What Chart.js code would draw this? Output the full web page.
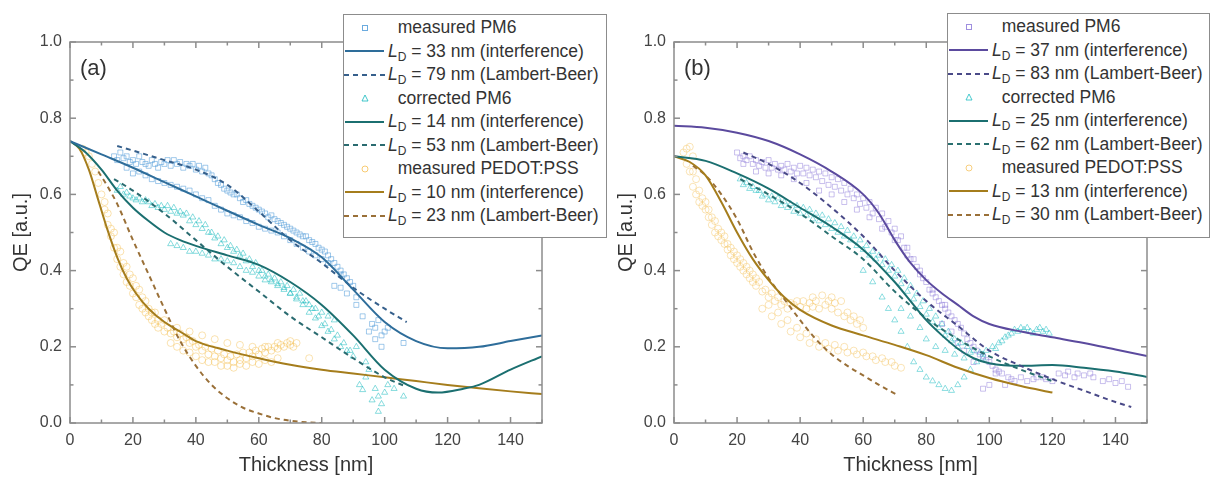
<!DOCTYPE html>
<html>
<head>
<meta charset="UTF-8">
<script src="https://cdn.jsdelivr.net/npm/chart.js@4.4.0/dist/chart.umd.min.js"></script>
<style>
  body { margin: 0; width: 1210px; height: 481px; position: relative; background: #fff; overflow: hidden;
         font-family: Arial, "Liberation Sans", sans-serif; }
  .panel { position: absolute; top: 0; width: 605px; height: 481px; }
  .tag { position: absolute; font-size: 22px; color: #333; line-height: 22px; }
  .legend { position: absolute; background: #fff; border: 1px solid #8c8c8c; box-sizing: border-box;
            font-size: 17.5px; color: #333; padding-top: 1px; }
  .legend .row { height: 23.5px; display: flex; align-items: center; white-space: nowrap; }
  .legend svg { width: 44px; height: 22px; flex: none; }
  .legend sub { font-size: 12px; vertical-align: -4px; line-height: 0; }
</style>
</head>
<body>
<div class="panel" style="left:0"><canvas id="chartA"></canvas></div>
<div class="panel" style="left:605px"><canvas id="chartB"></canvas></div>
<div class="tag" style="left:80px; top:57px">(a)</div>
<div class="tag" style="left:684px; top:57px">(b)</div>
<div class="legend" id="legendA" style="left:343px; top:14px; width:264px; height:224px"></div>
<div class="legend" id="legendB" style="left:947px; top:13px; width:263px; height:225px"></div>

<script>
// axis ticks
const xTicks = [0, 20, 40, 60, 80, 100, 120, 140];
const xMinor = [10, 30, 50, 70, 90, 110, 130, 150];
const yTicks = [0, 0.2, 0.4, 0.6, 0.8, 1.0];
const yMinor = [0.1, 0.3, 0.5, 0.7, 0.9];

// ---- panel (a) ---- [thickness nm, QE]
const aPm6Meas = [
  [14,0.70],[16,0.71],[18,0.70],[20,0.69],[22,0.70],[24,0.68],[26,0.69],[28,0.67],[30,0.68],[32,0.675],
  [34,0.68],[36,0.67],[38,0.675],[40,0.665],[42,0.66],[44,0.655],[46,0.64],[48,0.625],[50,0.61],[52,0.60],
  [54,0.59],[56,0.585],[58,0.57],[60,0.56],[62,0.55],[64,0.545],[66,0.53],[68,0.52],[70,0.51],[72,0.50],
  [74,0.49],[76,0.48],[78,0.47],[80,0.455],[82,0.44],[84,0.42],[86,0.40],[88,0.38],[90,0.36],[91,0.33],
  [15,0.69],[17,0.695],[19,0.685],[21,0.68],[23,0.685],[25,0.675],[27,0.68],[29,0.685],[31,0.69],[33,0.69],
  [35,0.685],[37,0.68],[39,0.68],[41,0.675],[43,0.67],[45,0.65],[47,0.63],[49,0.615],[51,0.605],[53,0.60],
  [55,0.58],[57,0.575],[59,0.565],[61,0.555],[63,0.54],[65,0.535],[67,0.525],[69,0.515],[71,0.505],[73,0.495],
  [75,0.49],[77,0.475],[79,0.46],[81,0.45],[83,0.43],[85,0.41],[87,0.39],[89,0.37],
  [18,0.67],[22,0.66],[26,0.64],[30,0.63],[34,0.62],[38,0.61],[42,0.59],[46,0.57],[50,0.55],[54,0.54],
  [58,0.525],[62,0.51],[66,0.50],[70,0.48],[74,0.46],[78,0.44],[82,0.42],[86,0.39],
  [20,0.655],[24,0.65],[28,0.635],[32,0.625],[36,0.615],[40,0.60],[44,0.585],[48,0.56],[52,0.545],[56,0.53],
  [60,0.515],[64,0.505],[68,0.49],[72,0.47],[76,0.45],[80,0.43],
  [84,0.36],[88,0.34],[86,0.355],[91,0.31],[93,0.28],[95,0.24],[96,0.26],[97,0.25],[97,0.22],[98,0.27],
  [99,0.23],[99,0.20],[100,0.24],[101,0.25],[106,0.21]
];
const aPm6Interf = [[0,0.74],[10,0.705],[20,0.67],[30,0.632],[40,0.595],[50,0.557],[60,0.52],[70,0.485],
  [80,0.435],[90,0.35],[100,0.265],[110,0.215],[120,0.196],[130,0.20],[140,0.215],[150,0.23]];
const aPm6LB = [[15,0.727],[20,0.715],[30,0.69],[40,0.665],[50,0.625],[60,0.555],[70,0.48],[80,0.42],
  [90,0.355],[100,0.30],[107,0.265]];

const aCorrMeas = [
  [15,0.61],[17,0.60],[19,0.595],[21,0.585],[23,0.58],[25,0.58],[27,0.575],[29,0.57],[31,0.57],[33,0.565],
  [35,0.555],[37,0.55],[39,0.54],[41,0.53],[43,0.52],[45,0.50],[47,0.49],[49,0.48],[51,0.465],[53,0.455],
  [55,0.445],[57,0.43],[59,0.42],[61,0.40],[63,0.39],[65,0.38],[67,0.37],[69,0.36],[71,0.35],[73,0.34],
  [75,0.32],[77,0.30],[79,0.28],[81,0.26],[83,0.245],[85,0.23],[87,0.21],[89,0.19],[90,0.175],
  [16,0.62],[18,0.605],[20,0.59],[22,0.59],[24,0.585],[26,0.57],[28,0.565],[30,0.56],[32,0.555],[34,0.55],
  [36,0.545],[38,0.53],[40,0.52],[42,0.51],[44,0.50],[46,0.485],[48,0.47],[50,0.46],[52,0.45],[54,0.44],
  [56,0.425],[58,0.41],[60,0.40],[62,0.385],[64,0.375],[66,0.365],[68,0.355],[70,0.34],[72,0.325],[74,0.31],
  [76,0.29],[78,0.275],[80,0.255],[82,0.24],[84,0.22],[86,0.20],
  [32,0.47],[36,0.46],[40,0.45],[44,0.44],[48,0.43],[52,0.42],[56,0.40],[60,0.385],[64,0.37],[68,0.35],
  [72,0.33],[76,0.31],[80,0.29],[84,0.27],
  [34,0.465],[38,0.45],[42,0.445],[46,0.43],[50,0.425],[54,0.41],[58,0.395],[62,0.375],[66,0.36],[70,0.34],
  [74,0.32],[78,0.30],[82,0.28],
  [88,0.19],[91,0.20],[92,0.10],[93,0.087],[94,0.12],[94,0.16],[95,0.14],[96,0.06],[97,0.09],[98,0.03],
  [98,0.07],[99,0.05],[100,0.08],[101,0.10],[103,0.09],[106,0.07]
];
const aCorrInterf = [[0,0.74],[5,0.71],[10,0.665],[15,0.61],[20,0.565],[25,0.53],[30,0.50],[35,0.48],
  [40,0.465],[50,0.44],[60,0.415],[70,0.37],[80,0.31],[90,0.23],[100,0.14],[110,0.09],[117,0.08],
  [125,0.09],[130,0.10],[140,0.14],[150,0.175]];
const aCorrLB = [[14,0.64],[20,0.61],[30,0.55],[40,0.48],[50,0.41],[60,0.345],[70,0.28],[80,0.225],
  [90,0.17],[100,0.12],[107,0.095]];

const aPedMeas = [
  [4,0.72],[6,0.70],[8,0.66],[10,0.60],[11,0.56],[12,0.52],[13,0.49],[14,0.46],[15,0.43],[16,0.41],
  [17,0.39],[18,0.37],[19,0.36],[20,0.34],[21,0.33],[22,0.31],[23,0.30],[24,0.29],[25,0.28],[26,0.27],
  [27,0.26],[28,0.25],[30,0.24],[32,0.235],[34,0.225],[36,0.22],[38,0.21],[40,0.20],[42,0.19],[44,0.18],
  [46,0.175],[48,0.17],[50,0.165],[52,0.16],[54,0.165],[56,0.17],[58,0.175],[60,0.18],[62,0.185],[64,0.19],
  [66,0.195],[68,0.20],[70,0.205],[72,0.21],
  [5,0.71],[7,0.68],[9,0.63],[11,0.58],[12,0.55],[13,0.51],[15,0.46],[17,0.42],[19,0.39],[21,0.36],
  [23,0.33],[25,0.30],[26,0.29],[28,0.27],[29,0.26],[31,0.25],[33,0.24],[35,0.235],[37,0.225],[39,0.215],
  [41,0.205],[43,0.20],[45,0.195],[47,0.19],[49,0.18],[51,0.175],[53,0.18],[55,0.185],[57,0.185],[59,0.19],
  [61,0.195],[63,0.20],[65,0.20],[67,0.205],[69,0.21],[71,0.20],
  [14,0.50],[16,0.45],[18,0.41],[20,0.38],[22,0.35],[24,0.32],[27,0.29],[30,0.27],[34,0.25],[38,0.24],
  [42,0.23],[46,0.22],[50,0.21],[54,0.205],[58,0.20],[62,0.20],[66,0.21],[70,0.215],
  [32,0.21],[34,0.20],[36,0.19],[38,0.185],[40,0.175],[42,0.165],[44,0.16],[46,0.16],[48,0.15],[50,0.15],
  [52,0.145],[54,0.155],[56,0.15],[58,0.16],[60,0.155],[62,0.165],[64,0.16],[66,0.17],[76,0.17]
];
const aPedInterf = [[0,0.74],[3,0.72],[6,0.665],[9,0.585],[12,0.505],[15,0.435],[18,0.38],[21,0.34],
  [25,0.30],[30,0.265],[35,0.24],[40,0.215],[50,0.19],[60,0.17],[70,0.153],[80,0.14],[90,0.13],
  [100,0.12],[110,0.11],[120,0.10],[130,0.091],[140,0.083],[150,0.076]];
const aPedLB = [[9,0.66],[12,0.62],[15,0.575],[20,0.48],[25,0.39],[30,0.30],[35,0.215],[40,0.15],
  [45,0.10],[50,0.065],[55,0.04],[60,0.025],[65,0.013],[70,0.006],[75,0.002],[80,0]];

// ---- panel (b) ----
const bPm6Meas = [
  [20,0.71],[22,0.70],[24,0.70],[26,0.69],[28,0.685],[30,0.69],[32,0.68],[34,0.675],[36,0.68],[38,0.67],
  [40,0.675],[42,0.67],[44,0.665],[46,0.66],[48,0.655],[50,0.645],[52,0.64],[54,0.63],[56,0.615],[58,0.60],
  [60,0.59],[62,0.58],[64,0.565],[66,0.55],[68,0.53],[70,0.51],[72,0.49],[74,0.46],[76,0.43],[78,0.40],
  [80,0.37],[82,0.34],[84,0.32],[86,0.30],[88,0.28],[90,0.26],[92,0.235],[94,0.21],[96,0.19],[98,0.175],
  [100,0.16],[102,0.14],[104,0.13],[106,0.12],[108,0.11],
  [21,0.695],[23,0.69],[25,0.68],[27,0.675],[29,0.67],[31,0.67],[33,0.665],[35,0.665],[37,0.66],[39,0.655],
  [41,0.655],[43,0.65],[45,0.645],[47,0.635],[49,0.625],[51,0.62],[53,0.61],[55,0.60],[57,0.59],[59,0.575],
  [61,0.565],[63,0.55],[65,0.535],[67,0.515],[69,0.50],[71,0.48],[73,0.46],[75,0.43],[77,0.41],[79,0.38],
  [81,0.35],[83,0.33],[85,0.31],[87,0.29],[89,0.27],[91,0.25],[93,0.22],[95,0.20],[97,0.18],[99,0.165],
  [101,0.15],[103,0.135],[107,0.115],
  [22,0.68],[26,0.66],[30,0.655],[34,0.65],[38,0.64],[42,0.63],[46,0.61],[50,0.60],[54,0.58],[58,0.56],
  [62,0.54],[66,0.51],[70,0.48],[74,0.44],[78,0.39],[82,0.35],[86,0.31],
  [85,0.26],[88,0.24],[90,0.21],[92,0.19],[95,0.16],[98,0.09],[100,0.10],[102,0.13],[105,0.10],[110,0.12],
  [112,0.11],[114,0.115],[115,0.12],[117,0.12],[118,0.115],[120,0.11],[122,0.13],[124,0.125],[125,0.135],
  [127,0.12],[128,0.13],[130,0.125],[132,0.13],[133,0.12],[136,0.11],[138,0.115],[140,0.105],[142,0.11],
  [144,0.095]
];
const bPm6Interf = [[0,0.78],[10,0.775],[20,0.762],[30,0.74],[40,0.705],[50,0.66],[60,0.60],[65,0.55],
  [70,0.48],[75,0.42],[80,0.375],[85,0.34],[90,0.31],[95,0.28],[100,0.26],[110,0.24],[120,0.225],
  [130,0.21],[140,0.193],[150,0.176]];
const bPm6LB = [[22,0.71],[30,0.68],[40,0.63],[50,0.565],[60,0.49],[70,0.40],[80,0.32],[90,0.255],
  [100,0.19],[110,0.15],[120,0.115],[130,0.085],[140,0.055],[145,0.042]];

const bCorrMeas = [
  [21,0.64],[23,0.63],[25,0.62],[27,0.61],[29,0.60],[31,0.595],[33,0.59],[35,0.58],[37,0.575],[39,0.57],
  [41,0.565],[43,0.56],[45,0.55],[47,0.545],[49,0.535],[51,0.525],[53,0.515],[55,0.505],[57,0.49],[59,0.48],
  [61,0.465],[63,0.45],[65,0.44],[67,0.43],[69,0.415],[71,0.40],[73,0.38],[75,0.36],[77,0.34],[79,0.32],
  [81,0.30],[83,0.28],[85,0.26],[87,0.24],[89,0.22],[91,0.21],[93,0.20],[95,0.19],[97,0.185],[99,0.19],
  [101,0.20],[103,0.21],[105,0.225],[107,0.235],[109,0.24],[111,0.245],[113,0.24],[115,0.245],[117,0.24],
  [119,0.235],
  [22,0.625],[24,0.615],[26,0.61],[28,0.595],[30,0.585],[32,0.58],[34,0.57],[36,0.565],[38,0.555],[40,0.55],
  [42,0.545],[44,0.535],[46,0.53],[48,0.52],[50,0.51],[52,0.50],[54,0.49],[56,0.48],[58,0.465],[60,0.455],
  [62,0.44],[64,0.43],[66,0.415],[68,0.40],[70,0.385],[72,0.365],[74,0.345],[76,0.325],[78,0.305],[80,0.285],
  [82,0.265],[84,0.25],[86,0.23],[88,0.215],[90,0.20],[94,0.185],[98,0.18],[102,0.195],[104,0.215],
  [106,0.23],[108,0.245],[110,0.25],[112,0.25],[114,0.235],[116,0.25],[118,0.245],
  [60,0.40],[63,0.37],[66,0.33],[68,0.30],[70,0.27],[72,0.24],[74,0.20],[76,0.16],[78,0.14],[80,0.12],
  [82,0.11],[84,0.10],[86,0.09],[88,0.085],[90,0.10],[92,0.12],[94,0.14],[96,0.16],[98,0.17],
  [72,0.30],[75,0.28],[78,0.25],[80,0.22],[83,0.20],[86,0.19],[89,0.18],[92,0.17]
];
const bCorrInterf = [[0,0.70],[10,0.688],[20,0.655],[30,0.615],[40,0.565],[50,0.515],[60,0.455],
  [70,0.37],[75,0.32],[80,0.27],[85,0.23],[90,0.195],[95,0.17],[100,0.157],[110,0.15],[120,0.152],
  [130,0.145],[140,0.135],[150,0.121]];
const bCorrLB = [[21,0.64],[30,0.60],[40,0.55],[50,0.49],[60,0.43],[70,0.345],[80,0.275],[90,0.22],
  [100,0.175],[110,0.14],[120,0.11]];

const bPedMeas = [
  [3,0.71],[4,0.72],[5,0.725],[6,0.70],[5,0.66],[6,0.62],[7,0.60],[8,0.58],[9,0.57],[10,0.56],
  [11,0.54],[12,0.52],[13,0.50],[14,0.49],[15,0.48],[16,0.47],[17,0.455],[18,0.44],[19,0.43],[20,0.42],
  [21,0.41],[22,0.40],[23,0.39],[24,0.38],[25,0.37],[26,0.36],[28,0.345],[30,0.33],[32,0.32],[34,0.31],
  [36,0.30],[38,0.31],[40,0.305],[42,0.30],[44,0.305],[46,0.30],[48,0.31],[50,0.30],[52,0.29],[54,0.28],
  [56,0.27],[58,0.26],[60,0.25],
  [4,0.68],[6,0.66],[7,0.64],[8,0.61],[9,0.59],[10,0.58],[11,0.56],[12,0.54],[13,0.53],[14,0.51],
  [15,0.50],[16,0.49],[17,0.47],[18,0.46],[19,0.45],[20,0.44],[21,0.43],[22,0.42],[23,0.41],[24,0.40],
  [25,0.39],[26,0.38],[27,0.37],[29,0.35],[31,0.34],[33,0.33],[35,0.32],[37,0.315],[39,0.32],[41,0.32],
  [43,0.315],[45,0.32],[49,0.32],[51,0.315],[55,0.29],[57,0.28],[59,0.27],
  [28,0.30],[31,0.28],[34,0.26],[37,0.24],[40,0.225],[43,0.21],[46,0.20],[49,0.195],[52,0.19],[55,0.185],
  [58,0.18],[61,0.175],[64,0.165],[67,0.16],[70,0.15],[72,0.145],
  [30,0.31],[33,0.29],[36,0.27],[39,0.25],[42,0.235],[45,0.22],[48,0.21],[51,0.205],[54,0.20],[57,0.19],
  [60,0.185],[63,0.175],[66,0.17],[69,0.16],
  [44,0.33],[47,0.335],[50,0.33],[53,0.32]
];
const bPedInterf = [[0,0.70],[5,0.685],[10,0.65],[15,0.58],[20,0.50],[25,0.43],[30,0.375],[35,0.33],
  [40,0.297],[50,0.256],[60,0.23],[70,0.205],[80,0.178],[90,0.145],[100,0.118],[110,0.097],[120,0.08]];
const bPedLB = [[6,0.675],[10,0.65],[15,0.60],[20,0.535],[25,0.45],[30,0.38],[35,0.325],[40,0.27],
  [45,0.22],[50,0.18],[55,0.15],[60,0.125],[65,0.10],[71,0.073]];

const toXY = arr => arr.map(p => ({x: p[0], y: p[1]}));

function markerSet(data, shape, color) {
  return { data: toXY(data), pointStyle: shape, pointRadius: 3.5, borderWidth: 1,
           borderColor: color, backgroundColor: 'rgba(0,0,0,0)', showLine: false, order: 2 };
}
function fitSet(data, color, dashed) {
  return { data: toXY(data), showLine: true, pointRadius: 0, borderWidth: 2, borderColor: color,
           borderDash: dashed ? [5, 4] : [], cubicInterpolationMode: 'monotone', fill: false, order: 1 };
}

// frame with inward ticks on all four sides
const framePlugin = {
  id: 'frame',
  afterDatasetsDraw(chart) {
    const {ctx, chartArea: a, scales: {x, y}} = chart;
    ctx.save();
    ctx.strokeStyle = '#8c8c8c';
    ctx.lineWidth = 1.5;
    ctx.strokeRect(a.left, a.top, a.right - a.left, a.bottom - a.top);
    const seg = (x1, y1, x2, y2) => { ctx.beginPath(); ctx.moveTo(x1, y1); ctx.lineTo(x2, y2); ctx.stroke(); };
    [[xTicks, 6], [xMinor, 3.5]].forEach(([vals, len]) => vals.forEach(v => {
      const px = x.getPixelForValue(v);
      seg(px, a.bottom, px, a.bottom - len);
      seg(px, a.top, px, a.top + len);
    }));
    [[yTicks, 6], [yMinor, 3.5]].forEach(([vals, len]) => vals.forEach(v => {
      const py = y.getPixelForValue(v);
      seg(a.left, py, a.left + len, py);
      seg(a.right, py, a.right - len, py);
    }));
    ctx.restore();
  }
};

function makeChart(id, datasets, yAxisWidth) {
  return new Chart(document.getElementById(id), {
    type: 'scatter',
    data: { datasets },
    options: {
      responsive: false,
      animation: false,
      layout: { padding: { top: 42, right: 63, bottom: 0, left: 0 } },
      plugins: { legend: { display: false }, tooltip: { enabled: false } },
      scales: {
        x: {
          min: 0, max: 150,
          grid: { display: false, drawTicks: false },
          border: { display: false },
          afterBuildTicks: s => { s.ticks = xTicks.map(v => ({value: v})); },
          afterFit: s => { s.height = 58; },
          ticks: { padding: 8, color: '#444', font: { size: 16, family: 'Arial' } },
          title: { display: true, text: 'Thickness [nm]', color: '#333', padding: { bottom: 4 },
                   font: { size: 20, family: 'Arial' } }
        },
        y: {
          min: 0, max: 1,
          grid: { display: false, drawTicks: false },
          border: { display: false },
          afterBuildTicks: s => { s.ticks = yTicks.map(v => ({value: v})); },
          afterFit: s => { s.width = yAxisWidth; },
          ticks: { padding: 8, color: '#444', font: { size: 16, family: 'Arial' },
                   callback: v => v.toFixed(1) },
          title: { display: true, text: 'QE [a.u.]', color: '#333', padding: { top: 9 },
                   font: { size: 20, family: 'Arial' } }
        }
      }
    },
    plugins: [framePlugin]
  });
}

for (const id of ['chartA', 'chartB']) {
  const c = document.getElementById(id);
  c.width = 605; c.height = 481;
}

makeChart('chartA', [
  fitSet(aPm6Interf, '#2e6d9a', false),
  fitSet(aPm6LB, '#36608c', true),
  fitSet(aCorrInterf, '#1b6f70', false),
  fitSet(aCorrLB, '#2a6b70', true),
  fitSet(aPedInterf, '#a57d1c', false),
  fitSet(aPedLB, '#9a7038', true),
  markerSet(aPm6Meas, 'rect', 'rgba(70,150,215,0.5)'),
  markerSet(aCorrMeas, 'triangle', 'rgba(20,185,190,0.5)'),
  markerSet(aPedMeas, 'circle', 'rgba(245,190,80,0.45)')
], 70);

makeChart('chartB', [
  fitSet(bPm6Interf, '#5b4a9e', false),
  fitSet(bPm6LB, '#4a4a88', true),
  fitSet(bCorrInterf, '#1b6f70', false),
  fitSet(bCorrLB, '#2a7070', true),
  fitSet(bPedInterf, '#a57d1c', false),
  fitSet(bPedLB, '#9a7038', true),
  markerSet(bPm6Meas, 'rect', 'rgba(135,115,215,0.45)'),
  markerSet(bCorrMeas, 'triangle', 'rgba(30,190,195,0.5)'),
  markerSet(bPedMeas, 'circle', 'rgba(245,195,95,0.45)')
], 69);

// legends
const legendA = [
  ['rect', 'rgba(70,150,215,0.8)', 'measured PM6'],
  ['solid', '#2e6d9a', '33', 'interference'],
  ['dash', '#36608c', '79', 'Lambert-Beer'],
  ['triangle', 'rgba(20,185,190,0.8)', 'corrected PM6'],
  ['solid', '#1b6f70', '14', 'interference'],
  ['dash', '#2a6b70', '53', 'Lambert-Beer'],
  ['circle', 'rgba(245,190,80,0.8)', 'measured PEDOT:PSS'],
  ['solid', '#a57d1c', '10', 'interference'],
  ['dash', '#9a7038', '23', 'Lambert-Beer']
];
const legendB = [
  ['rect', 'rgba(135,115,215,0.8)', 'measured PM6'],
  ['solid', '#5b4a9e', '37', 'interference'],
  ['dash', '#4a4a88', '83', 'Lambert-Beer'],
  ['triangle', 'rgba(30,190,195,0.8)', 'corrected PM6'],
  ['solid', '#1b6f70', '25', 'interference'],
  ['dash', '#2a7070', '62', 'Lambert-Beer'],
  ['circle', 'rgba(245,195,95,0.8)', 'measured PEDOT:PSS'],
  ['solid', '#a57d1c', '13', 'interference'],
  ['dash', '#9a7038', '30', 'Lambert-Beer']
];

function symbolSvg(kind, color) {
  let shape;
  if (kind === 'solid') shape = `<line x1="1" y1="11" x2="40" y2="11" stroke="${color}" stroke-width="2"/>`;
  else if (kind === 'dash') shape = `<line x1="0" y1="11" x2="43" y2="11" stroke="${color}" stroke-width="2" stroke-dasharray="5 4"/>`;
  else if (kind === 'rect') shape = `<rect x="18.5" y="8.5" width="5" height="5" fill="none" stroke="${color}"/>`;
  else if (kind === 'triangle') shape = `<polygon points="21,8 24,14 18,14" fill="none" stroke="${color}"/>`;
  else shape = `<circle cx="21" cy="11" r="3" fill="none" stroke="${color}"/>`;
  return `<svg viewBox="0 0 44 22">${shape}</svg>`;
}

function buildLegend(id, rows) {
  document.getElementById(id).innerHTML = rows.map(r => {
    const text = (r[0] === 'solid' || r[0] === 'dash')
      ? `<i>L</i><sub>D</sub>&nbsp;= ${r[2]} nm (${r[3]})`
      : `&nbsp;&nbsp;${r[2]}`;
    return `<div class="row">${symbolSvg(r[0], r[1])}<span>${text}</span></div>`;
  }).join('');
}
buildLegend('legendA', legendA);
buildLegend('legendB', legendB);
</script>
</body>
</html>
